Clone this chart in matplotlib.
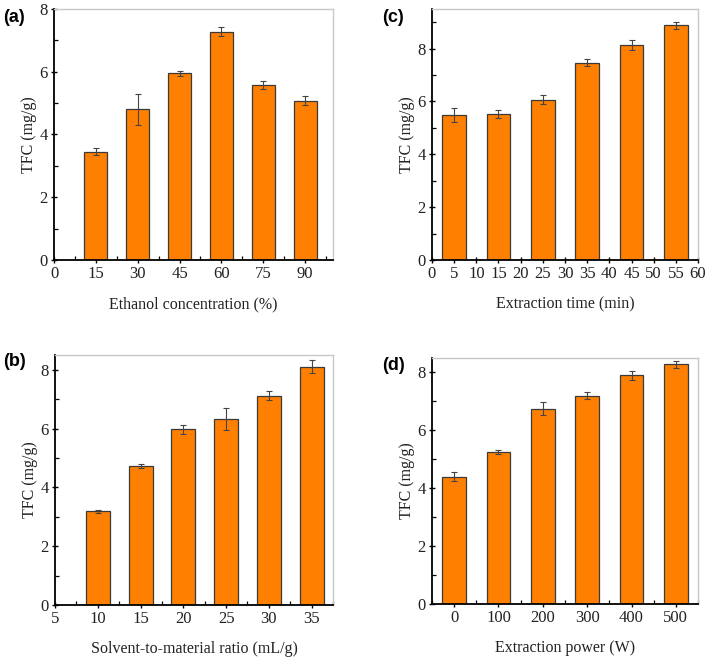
import numpy as np
import matplotlib
matplotlib.use("Agg")
import matplotlib.pyplot as plt
from matplotlib.ticker import MultipleLocator

plt.rcParams['font.family'] = ['Liberation Serif', 'DejaVu Serif']

# (a) ethanol concentration
eth_x = [15, 30, 45, 60, 75, 90]
eth_y = [3.45, 4.80, 5.95, 7.28, 5.58, 5.08]
eth_err = [0.12, 0.50, 0.08, 0.15, 0.14, 0.14]

# (b) solvent-to-material ratio
ratio_x = [10, 15, 20, 25, 30, 35]
ratio_y = [3.18, 4.73, 5.97, 6.32, 7.12, 8.10]
ratio_err = [0.05, 0.08, 0.15, 0.37, 0.15, 0.22]

# (c) extraction time
time_x = [5, 15, 25, 35, 45, 55]
time_y = [5.48, 5.53, 6.07, 7.47, 8.13, 8.88]
time_err = [0.26, 0.15, 0.18, 0.12, 0.20, 0.13]

# (d) extraction power
power_x = [0, 100, 200, 300, 400, 500]
power_y = [4.40, 5.25, 6.75, 7.20, 7.90, 8.28]
power_err = [0.15, 0.08, 0.22, 0.13, 0.15, 0.13]

bar_col = '#ff8000'
edge_col = '#3a3a3a'

fig = plt.figure(figsize=(7.09, 6.59), dpi=100)


def panel(rect, x, y, err, width, xlim, ylim, xmaj, xmin, xlabel, tag, tagpos):
    ax = fig.add_axes(rect)
    ax.bar(x, y, width=width, color=bar_col, edgecolor=edge_col, linewidth=0.9,
           yerr=err, capsize=2.2, error_kw=dict(ecolor='#444444', elinewidth=0.8, capthick=0.8),
           zorder=2)
    ax.set_xlim(*xlim)
    ax.set_ylim(*ylim)
    ax.xaxis.set_major_locator(MultipleLocator(xmaj))
    if xmin:
        ax.xaxis.set_minor_locator(MultipleLocator(xmin))
    ax.yaxis.set_major_locator(MultipleLocator(2))
    ax.yaxis.set_minor_locator(MultipleLocator(1))
    for s in ['left', 'bottom']:
        ax.spines[s].set_color('black')
        ax.spines[s].set_linewidth(1.3)
    for s in ['top', 'right']:
        ax.spines[s].set_color('#c8c8c8')
        ax.spines[s].set_linewidth(1.0)
    ax.tick_params(which='major', direction='inout', length=5, width=1.0,
                   labelsize=12, colors='black', pad=2, labelcolor='#222222')
    ax.tick_params(which='minor', direction='in', length=3, width=0.9)
    ax.set_xlabel(xlabel, fontsize=11.5, color='#222222', labelpad=10)
    ax.set_ylabel('TFC (mg/g)', fontsize=11.5, color='#222222', labelpad=2)
    fig.text(tagpos[0], tagpos[1], tag, fontsize=13, fontweight='bold',
             family='Liberation Sans', ha='left', va='center')
    return ax


panel([0.0762, 0.6055, 0.3935, 0.3809], eth_x, eth_y, eth_err, 8.3,
      (0, 100), (0, 8), 15, 7.5, 'Ethanol concentration (%)', '(a)', (0.004, 0.973))
panel([0.6093, 0.6055, 0.3752, 0.3809], time_x, time_y, time_err, 5.4,
      (0, 60), (0, 9.5), 5, None, 'Extraction time (min)', '(c)', (0.539, 0.973))
panel([0.0776, 0.0819, 0.3921, 0.3794], ratio_x, ratio_y, ratio_err, 2.8,
      (5, 37.5), (0, 8.5), 5, 2.5, 'Solvent-to-material ratio (mL/g)', '(b)', (0.004, 0.452))
panel([0.6093, 0.0835, 0.3752, 0.3733], power_x, power_y, power_err, 54,
      (-50, 550), (0, 8.5), 100, 50, 'Extraction power (W)', '(d)', (0.539, 0.446))

fig.savefig('out.png', dpi=100)
